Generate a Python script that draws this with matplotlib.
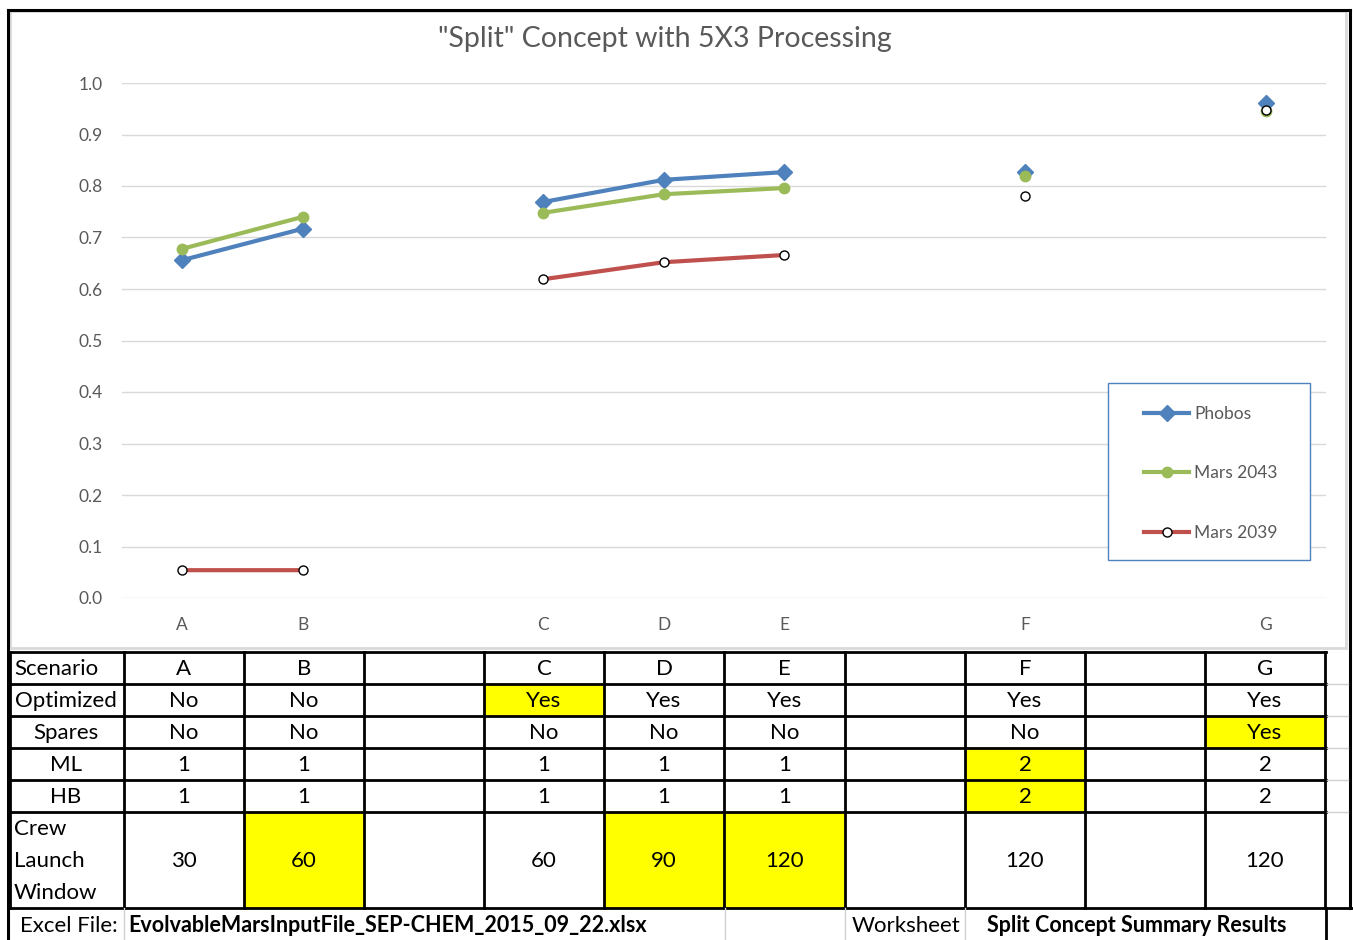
import numpy as np
import matplotlib
matplotlib.use("Agg")
import matplotlib.pyplot as plt
from matplotlib.patches import Rectangle

plt.rcParams['font.family'] = ['Lato', 'DejaVu Sans']

# chart data (nan = empty spacer category)
categories = ['A', 'B', '', 'C', 'D', 'E', '', 'F', '', 'G']
phobos = [0.656, 0.717, np.nan, 0.769, 0.812, 0.827, np.nan, 0.827, np.nan, 0.961]
mars_2043 = [0.678, 0.740, np.nan, 0.748, 0.784, 0.796, np.nan, 0.819, np.nan, 0.946]
mars_2039 = [0.054, 0.054, np.nan, 0.619, 0.652, 0.666, np.nan, 0.781, np.nan, 0.948]

# table under the chart
row_labels = ['Scenario', 'Optimized', 'Spares', 'ML', 'HB', 'Crew\nLaunch\nWindow']
optimized = ['No', 'No', '', 'Yes', 'Yes', 'Yes', '', 'Yes', '', 'Yes']
spares = ['No', 'No', '', 'No', 'No', 'No', '', 'No', '', 'Yes']
ml = ['1', '1', '', '1', '1', '1', '', '2', '', '2']
hb = ['1', '1', '', '1', '1', '1', '', '2', '', '2']
crew = ['30', '60', '', '60', '90', '120', '', '120', '', '120']
# yellow cells: (row, column)
highlights = [(1, 3), (2, 9), (3, 7), (4, 7), (5, 1), (5, 4), (5, 5)]
excel_file = 'EvolvableMarsInputFile_SEP-CHEM_2015_09_22.xlsx'
worksheet = 'Split Concept Summary Results'

W, H = 1353, 940
fig = plt.figure(figsize=(W / 100, H / 100), dpi=100, facecolor='white')

# background axes in pixel coordinates for frame + table
bg = fig.add_axes([0, 0, 1, 1])
bg.set_xlim(0, W)
bg.set_ylim(H, 0)
bg.axis('off')

grey = '#595959'
tsize = 16

# chart area border
bg.add_patch(Rectangle((10, 11), 1336, 637, fill=False, ec='#D9D9D9', lw=2))
# outer black frame
bg.plot([8, 1350], [10, 10], color='black', lw=2.2)
bg.plot([8, 8], [10, 940], color='black', lw=2.2)
bg.plot([1350, 1350], [10, 908], color='black', lw=2.2)

# chart axes
x0, x1, y0, y1 = 122, 1326, 83, 598
ax = fig.add_axes([x0 / W, 1 - y1 / H, (x1 - x0) / W, (y1 - y0) / H])
ax.set_facecolor('none')
x = np.arange(len(categories))
ax.plot(x, phobos, color='#4F81BD', lw=3, marker='D', ms=8.5, label='Phobos', clip_on=False, zorder=3)
ax.plot(x, mars_2043, color='#9BBB59', lw=3, marker='o', ms=7.5, label='Mars 2043', clip_on=False, zorder=4)
ax.plot(x, mars_2039, color='#C0504D', lw=3, marker='o', ms=6.5, mfc='white', mec='black', mew=1,
        label='Mars 2039', clip_on=False, zorder=5)
ax.set_xlim(-0.5, len(categories) - 0.5)
ax.set_ylim(0, 1.0)
ax.set_yticks(np.arange(0, 1.01, 0.1))
ax.set_yticklabels([f'{v:.1f}' for v in np.arange(0, 1.01, 0.1)])
ax.set_xticks(x)
ax.set_xticklabels(categories)
ax.tick_params(length=0, colors=grey, labelsize=12.5)
ax.tick_params(axis='x', pad=13.5)
ax.tick_params(axis='y', pad=14)
ax.grid(axis='y', color='#D9D9D9', lw=1)
ax.set_axisbelow(True)
for s in ax.spines.values():
    s.set_visible(False)

fig.text(665 / W, 1 - 39 / H, '"Split" Concept with 5X3 Processing', ha='center', va='center',
         fontsize=20.5, color=grey)

# legend box + frameless legend inside it
fig.patches.append(Rectangle((1108 / W, 1 - 560 / H), 202 / W, 177 / H, transform=fig.transFigure,
                             fc='white', ec='#4F81BD', lw=1, zorder=2))
leg = fig.legend(loc='upper left', bbox_to_anchor=(1144 / W, 1 - 406 / H), borderaxespad=0,
                 fontsize=12.5, labelcolor=grey, frameon=False, borderpad=0,
                 handlelength=2.6, handletextpad=0.3, labelspacing=2.5)
leg.set_zorder(6)

# table
col_edges = [10, 124] + [int(round(124 + 120.1 * i)) for i in range(1, 11)]
row_edges = [652, 684, 716, 748, 780, 812, 908]
rows = [categories, optimized, spares, ml, hb, crew]

for r, c in highlights:
    bg.add_patch(Rectangle((col_edges[c + 1], row_edges[r]), col_edges[c + 2] - col_edges[c + 1],
                           row_edges[r + 1] - row_edges[r], fc='#FFFF00', ec='none'))

for r, vals in enumerate(rows):
    yc = (row_edges[r] + row_edges[r + 1]) / 2
    lab = row_labels[r]
    if r in (0, 5):
        bg.text(14, yc + 1, lab, ha='left', va='center', fontsize=tsize, color='black', linespacing=1.72)
    else:
        bg.text(66, yc + 1, lab, ha='center', va='center', fontsize=tsize, color='black')
    for c, v in enumerate(vals):
        xc = (col_edges[c + 1] + col_edges[c + 2]) / 2
        bg.text(xc, yc + 1, v, ha='center', va='center', fontsize=tsize, color='black')

for yv in row_edges:
    bg.plot([10, 1326], [yv, yv], color='black', lw=2)
bg.plot([1326, 1353], [908, 908], color='black', lw=2)
for xv in col_edges:
    bg.plot([xv, xv], [652, 908], color='black', lw=2)

# last row (file info)
for yv in [684, 716, 748, 780, 812]:
    bg.plot([1327, 1348], [yv, yv], color='#D0D0D0', lw=1)
bg.plot([124, 124], [908, 940], color='#D0D0D0', lw=1)
for xv in [725, 845, 965]:
    bg.plot([xv, xv], [908, 940], color='#D0D0D0', lw=1)
bg.plot([1326, 1326], [908, 940], color='black', lw=2)
bg.text(118, 926, 'Excel File:', ha='right', va='center', fontsize=tsize, color='black')
bg.text(128, 926, excel_file, ha='left', va='center', fontsize=15.5, fontweight='bold', color='black')
bg.text(906, 926, 'Worksheet', ha='center', va='center', fontsize=tsize, color='black')
bg.text(1137, 926, worksheet, ha='center', va='center', fontsize=15.5, fontweight='bold', color='black')

fig.savefig('out.png', dpi=100, facecolor='white')
